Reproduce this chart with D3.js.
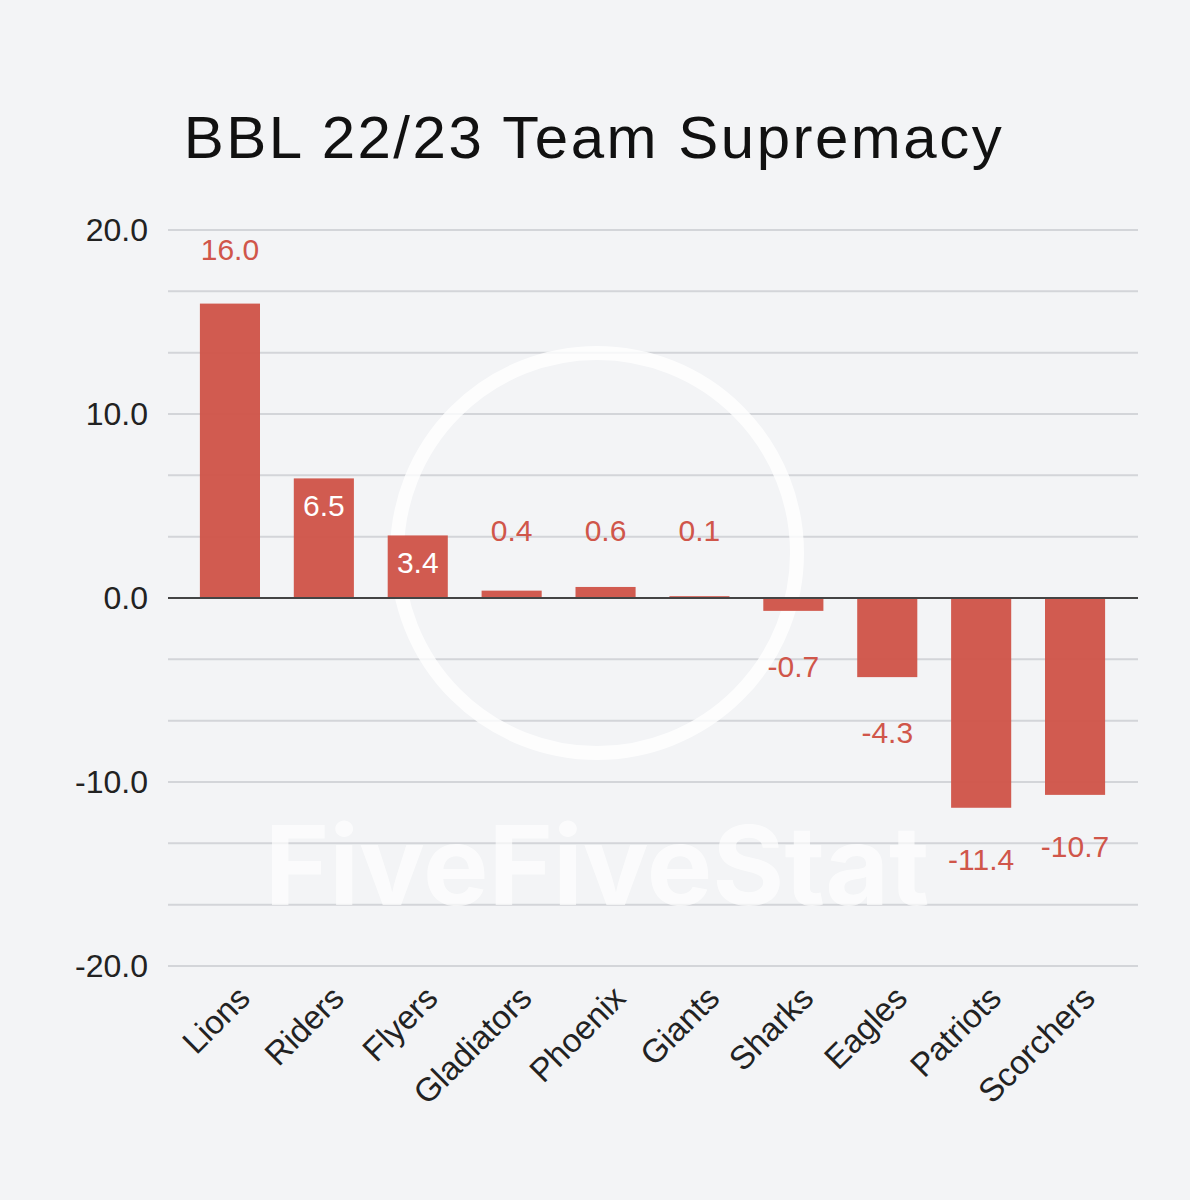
<!DOCTYPE html>
<html><head><meta charset="utf-8">
<script src="https://cdn.jsdelivr.net/npm/d3@7"></script>
<style>body{margin:0;background:#f3f4f6}svg{display:block}</style>
</head><body>
<script>
const teams=["Lions","Riders","Flyers","Gladiators","Phoenix","Giants","Sharks","Eagles","Patriots","Scorchers"];
const values=[16.0,6.5,3.4,0.4,0.6,0.1,-0.7,-4.3,-11.4,-10.7];
const labelPos=["above","inside","inside","above","above","above","below","below","below","below"];
const yTicks=[20,10,0,-10,-20];

const W=1190,H=1200;
const svg=d3.select("body").append("svg").attr("width",W).attr("height",H);
svg.append("rect").attr("width",W).attr("height",H).attr("fill","#f3f4f6");
const y=d3.scaleLinear().domain([-20,20]).range([966,230]);
const x=d3.scaleBand().domain(teams).range([183,1122]).paddingInner(0.36).paddingOuter(0.18);

const grid=d3.range(-20,20.01,10/3);
svg.selectAll(".g").data(grid).join("line").attr("x1",168).attr("x2",1138)
 .attr("y1",d=>y(d)).attr("y2",d=>y(d)).attr("stroke","#d3d5d9").attr("stroke-width",2);

svg.append("circle").attr("cx",597).attr("cy",553).attr("r",200).attr("fill","none").attr("stroke","#fff").attr("stroke-width",14).attr("opacity",0.8);
svg.append("text").attr("x",597).attr("y",905).attr("text-anchor","middle").attr("font-family","Inter, sans-serif")
 .attr("font-weight",700).attr("font-size",110).attr("fill","#fff").attr("opacity",0.7).text("FiveFiveStat");

svg.selectAll(".bar").data(values).join("rect")
 .attr("x",(d,i)=>x(teams[i])).attr("width",x.bandwidth())
 .attr("y",d=>y(Math.max(0,d))).attr("height",d=>Math.abs(y(d)-y(0)))
 .attr("fill","#d0564a").attr("opacity",0.97);

svg.append("line").attr("x1",168).attr("x2",1138).attr("y1",y(0)).attr("y2",y(0)).attr("stroke","#444").attr("stroke-width",2);

svg.selectAll(".vl").data(values).join("text")
 .attr("x",(d,i)=>x(teams[i])+x.bandwidth()/2)
 .attr("y",(d,i)=>{const p=labelPos[i];
   if(i===0) return 260;
   if(p==="inside") return y(d)+38;
   if(p==="above") return y(0.4)-50;
   return y(d)+(d<-10?62:66);})
 .attr("text-anchor","middle").attr("font-family","Liberation Sans, Arial, sans-serif").attr("font-size",30)
 .attr("fill",(d,i)=>labelPos[i]==="inside"?"#fff":"#d0564a").text(d=>d.toFixed(1));

svg.selectAll(".yt").data(yTicks).join("text").attr("x",148).attr("y",d=>y(d)+11)
 .attr("text-anchor","end").attr("font-family","Liberation Sans, Arial, sans-serif").attr("font-size",32).attr("fill","#222")
 .text(d=>d.toFixed(1));

svg.selectAll(".xt").data(teams).join("text")
 .attr("transform",d=>`translate(${x(d)+x.bandwidth()/2+22},${1000}) rotate(-45)`)
 .attr("text-anchor","end").attr("font-family","Liberation Sans, Arial, sans-serif").attr("font-size",33).attr("fill","#222").text(d=>d);

svg.append("text").attr("x",594).attr("y",158).attr("text-anchor","middle").attr("font-family","Liberation Sans, Arial, sans-serif")
 .attr("font-size",60).attr("letter-spacing",2.5).attr("fill","#111").text("BBL 22/23 Team Supremacy");
</script>
</body></html>
